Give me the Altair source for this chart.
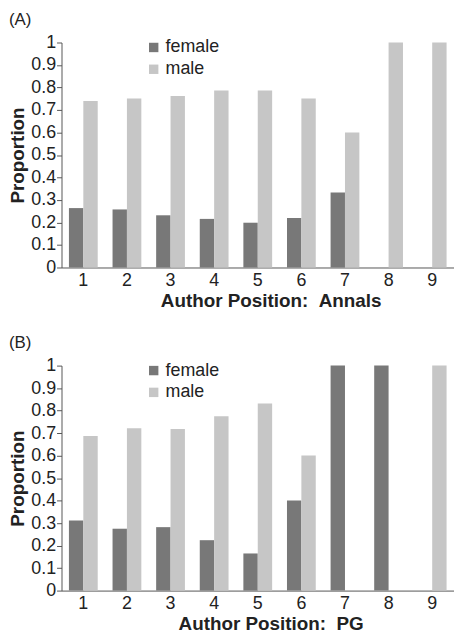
import altair as alt
import pandas as pd

positions = [1, 2, 3, 4, 5, 6, 7, 8, 9]
genders = ["female", "male"]
annals_female = [0.264, 0.258, 0.232, 0.216, 0.199, 0.220, 0.333, 0.0, 0.0]
annals_male = [0.740, 0.751, 0.762, 0.787, 0.787, 0.751, 0.600, 1.0, 1.0]
pg_female = [0.312, 0.275, 0.282, 0.224, 0.165, 0.400, 1.0, 1.0, 0.0]
pg_male = [0.687, 0.722, 0.718, 0.775, 0.832, 0.600, 0.0, 0.0, 1.0]
colors = ["#787878", "#c6c6c6"]
font = "Liberation Sans"


def frame(fem, mal):
    rows = []
    for p, f, m in zip(positions, fem, mal):
        rows.append({"pos": str(p), "gender": "female", "value": f})
        rows.append({"pos": str(p), "gender": "male", "value": m})
    return pd.DataFrame(rows)


def panel(df, label, xtitle):
    return alt.Chart(df, title=alt.TitleParams(
        label, anchor="start", fontSize=17, fontWeight="normal", font=font,
        color="#222", offset=5)).mark_bar().encode(
        x=alt.X("pos:N", sort=[str(p) for p in positions],
                scale=alt.Scale(paddingInner=0.34, paddingOuter=0.17),
                axis=alt.Axis(title=xtitle, labelAngle=0, ticks=False,
                              labelFontSize=18, labelFont=font, labelColor="#222",
                              titleFontSize=19, titleFont=font, titleColor="#222",
                              titleFontWeight="bold", domainColor="#555",
                              labelPadding=4, titlePadding=2, titleX=211,
                              titleAlign="center")),
        xOffset=alt.XOffset("gender:N", sort=genders,
                            scale=alt.Scale(paddingInner=0, paddingOuter=0)),
        y=alt.Y("value:Q", scale=alt.Scale(domain=[0, 1], nice=False),
                axis=alt.Axis(title="Proportion", values=[i / 10 for i in range(11)],
                              format=".1~f", grid=False, tickSize=5,
                              labelFontSize=18, labelFont=font, labelColor="#222",
                              titleFontSize=19, titleFont=font, titleColor="#222",
                              titleFontWeight="bold", domainColor="#555",
                              tickColor="#555", labelPadding=1, titlePadding=3)),
        color=alt.Color("gender:N", sort=genders,
                        scale=alt.Scale(domain=genders, range=colors),
                        legend=alt.Legend(title=None, orient="none", legendX=84,
                                          legendY=-4, symbolType="square",
                                          symbolSize=90, symbolStrokeWidth=0,
                                          labelFontSize=18, labelFont=font,
                                          labelColor="#222", rowPadding=4,
                                          labelOffset=3)),
    ).properties(width=396, height=227)


a = panel(frame(annals_female, annals_male), "(A)", "Author Position:\u00a0\u00a0Annals")
b = panel(frame(pg_female, pg_male), "(B)", "Author Position:\u00a0\u00a0PG")

chart = alt.vconcat(a, b, spacing=24).resolve_scale(color="independent").resolve_legend(
    color="independent").properties(padding=0).configure_view(stroke=None)

chart.save("out.html", embed_options={"renderer": "svg", "actions": False})
